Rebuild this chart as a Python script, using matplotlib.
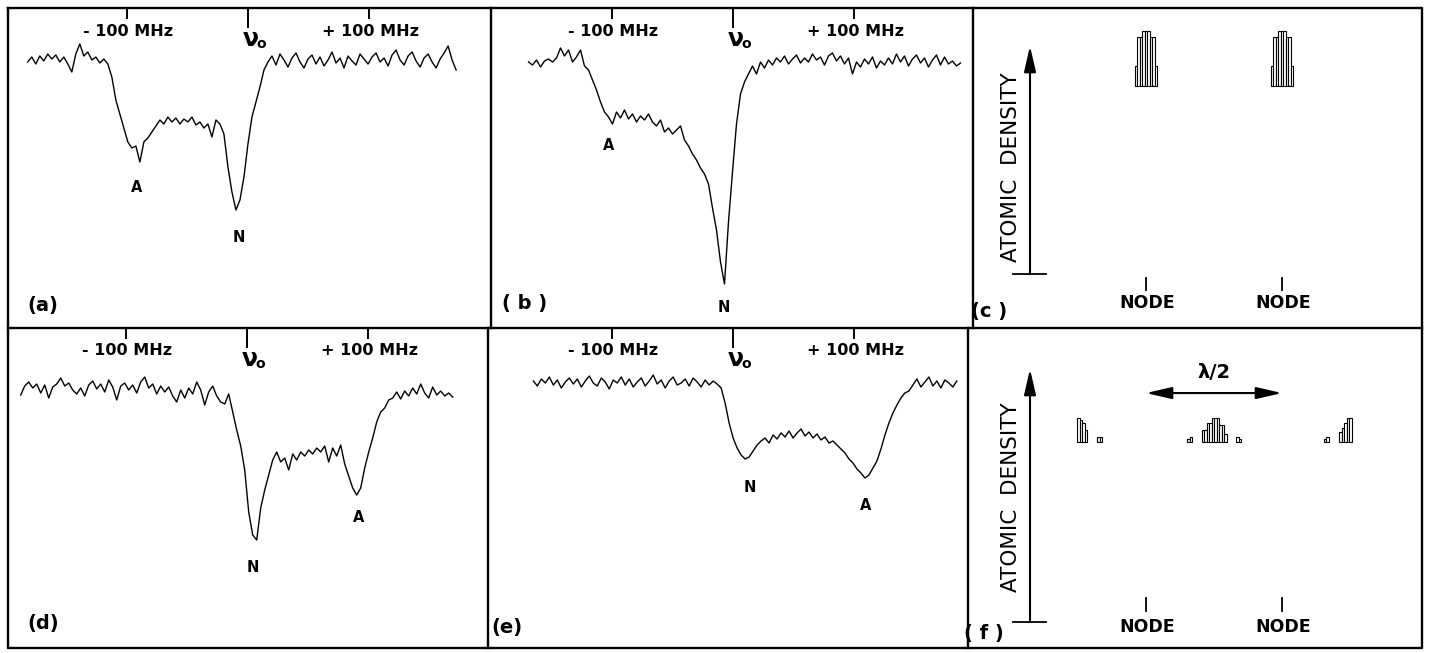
import numpy as np
import matplotlib
matplotlib.use("Agg")
import matplotlib.pyplot as plt

W, H = 1429, 653
PX_PER_MHZ = 1.21

# ---- spectra: signal in arb. units, 0 = off-resonance level, negative = absorption
# scans are sampled uniformly between the start/stop detunings (MHz from nu0)
scan_a = (-182, 172)
signal_a = [0, 5, -2, 6, 1, 8, 3, 7, 0, 5, -2, -10, 8, 18, 6, 10, 2, 5, -1, 3, -2,
            -15, -38, -52, -66, -80, -86, -84, -100, -80, -76, -70, -64, -58,
            -62, -55, -60, -56, -62, -57, -60, -55, -63, -60, -66, -62, -75, -58, -62,
            -72, -105, -130, -148, -138, -115, -82, -55, -40, -25, -8,
            0, 6, -3, 8, 2, -5, 4, 9, 0, -6, 3, 7, -2, 5, -4, 2, 10, -1, 4, -6,
            6, 1, -3, 8, 3, -2, 5, 9, 0, 4, -4, 7, 12, 2, -3, 6, 10, 1, -5, 4,
            8, 0, -6, 3, 9, 16, 2, -8]

scan_b = (-169, 188)
signal_b = [0, -3, 2, -5, 1, 3, 0, 4, 14, 6, 12, 0, 5, 12, -4,
            -8, -18, -28, -40, -50,
            -55, -62, -50, -56, -48, -57, -52, -60, -54, -58, -52, -60,
            -64, -58, -70, -66, -72, -68, -64, -78, -84, -92, -98, -106, -112, -122,
            -146, -168, -200, -222,
            -160, -110, -62, -32, -20, -12,
            -4, -12, 0, -6, 2, -3, 4, 0, 6, -2, 3, 7, -1, 4, 0, 8, 2, 5, -3, 6,
            9, 1, 6, -2, 4, -12, 0, -5, 3, -2, 5, -6, 1, -3, 4, -2, 8, 0, 6, -4,
            3, 7, -1, 4, -5, 2, 7, -3, 5, -2, 1, -4, -1]

scan_d = (-187, 170)
signal_d = [-5, 4, 8, 2, 6, -3, 5, -8, 3, 6, 12, 4, 7, 0, -4, 2, -6, 5, 9, 1,
            6, -2, 10, 3, -10, 4, 7, 0, 5, -3, 8, 13, 2, 6, -4, 4, -2, 3, -6, -12,
            0, -8, 2, -4, 8, 0, -15, -2, 4, -6, -12, -14, -4,
            -22, -40, -56, -80, -122, -145, -150, -118, -100, -85, -70, -62,
            -72, -68, -80, -64, -70, -62, -66, -60, -64, -58, -62, -56, -72, -58, -66, -55,
            -74, -86, -98, -105, -98, -78, -62, -48, -32, -22, -18, -10, -8,
            -2, -9, -1, -6, 2, -4, 6, -3, -8, 3, -5, -1, -6, -3, -7]

scan_e = (-165, 185)
signal_e = [2, -3, 4, 0, 6, -2, 3, -5, 1, 5, -1, 4, -4, 2, 7, 0, -3, 5, 1, -6,
            3, 0, 6, -2, 4, -4, 1, 5, -3, 2, 8, -1, 3, -5, 2, 6, -2, 0, 4, -3,
            5, 1, -4, 3, -2, 2, -1,
            -5, -20, -40, -55, -65, -72, -76, -74, -68, -62, -58, -55,
            -60, -52, -56, -50, -54, -48, -55, -50, -46, -53, -49, -55, -51, -57, -54, -60, -58,
            -62, -66, -70, -76, -80, -86, -90, -95, -92, -85, -78, -66, -52, -40, -30,
            -22, -15, -10, -8,
            -2, 4, -4, 1, 6, -3, 2, -5, 3, 0, -4, 2]

# ---- atomic density histograms, positions in units of the wavelength (node at 0 and 1/2)
nodes_c = [0.0, 0.5]
offset_c = [-0.0368, -0.0276, -0.0184, -0.0092, 0.0, 0.0092, 0.0184, 0.0276, 0.0368]
density_c = [0.36, 0.89, 0.89, 1.0, 1.0, 1.0, 0.89, 0.89, 0.36]

pos_f = [-0.2482, -0.2390, -0.2298, -0.2206, -0.1746, -0.1654,
         0.1563, 0.1654, 0.2096, 0.2188, 0.2279, 0.2371, 0.2463, 0.2555, 0.2647,
         0.2739, 0.2831, 0.2923, 0.3364, 0.3456,
         0.6581, 0.6673, 0.7151, 0.7243, 0.7335, 0.7426, 0.7518]
density_f = [0.44, 0.40, 0.35, 0.22, 0.09, 0.09,
             0.06, 0.09, 0.22, 0.22, 0.35, 0.35, 0.44, 0.44, 0.44,
             0.31, 0.31, 0.15, 0.09, 0.06,
             0.06, 0.09, 0.18, 0.25, 0.35, 0.44, 0.44]

tick_labels = {-100: "- 100 MHz", 100: "+ 100 MHz"}

fig = plt.figure(figsize=(W / 100, H / 100), dpi=100)
ov = fig.add_axes([0, 0, 1, 1])
ov.set_xlim(0, W)
ov.set_ylim(H, 0)
ov.set_axis_off()

BOLD = dict(fontfamily="DejaVu Sans", fontweight="bold", color="black")


def px_axes(x0, y0, x1, y1):
    ax = fig.add_axes([x0 / W, 1 - y1 / H, (x1 - x0) / W, (y1 - y0) / H])
    ax.set_axis_off()
    ax.patch.set_alpha(0)
    return ax


# frame
frame_kw = dict(color="black", lw=1.7, solid_capstyle="projecting")
ov.plot([8, 1422, 1422, 8, 8], [8, 8, 648, 648, 8], **frame_kw)
ov.plot([8, 1422], [328, 328], **frame_kw)
ov.plot([491, 491], [8, 328], **frame_kw)
ov.plot([973, 973], [8, 328], **frame_kw)
ov.plot([488, 488], [328, 648], **frame_kw)
ov.plot([968, 968], [328, 648], **frame_kw)

panels = [
    dict(rect=(8, 8, 491, 328), nu0=248, base=62, scan=scan_a, sig=signal_a,
         marks=[("A", -92, -125), ("N", -8, -176)]),
    dict(rect=(491, 8, 973, 328), nu0=733, base=62, scan=scan_b, sig=signal_b,
         marks=[("A", -103, -83), ("N", -8, -245)]),
    dict(rect=(8, 328, 488, 648), nu0=247, base=390, scan=scan_d, sig=signal_d,
         marks=[("N", 5, -178), ("A", 92, -128)]),
    dict(rect=(488, 328, 968, 648), nu0=733, base=383, scan=scan_e, sig=signal_e,
         marks=[("N", 14, -104), ("A", 110, -123)]),
]

for p in panels:
    x0, y0, x1, y1 = p["rect"]
    ax = px_axes(x0, y0, x1, y1)
    ax.set_xlim((x0 - p["nu0"]) / PX_PER_MHZ, (x1 - p["nu0"]) / PX_PER_MHZ)
    top = p["base"] - y0
    ax.set_ylim(-(y1 - p["base"]), top)
    freqs = np.linspace(p["scan"][0], p["scan"][1], len(p["sig"]))
    ax.plot(freqs, p["sig"], color="black", lw=1.0)
    for f, ln in [(-100, 10), (0, 19), (100, 10)]:
        ax.plot([f, f], [top, top - ln], color="black", lw=1.4)
    for f, txt in tick_labels.items():
        ax.text(f + 1, top - 23, txt, ha="center", va="center", fontsize=11.5, **BOLD)
    ax.text(2, top - 31, "ν", ha="center", va="center", fontsize=17, **BOLD)
    ax.text(11, top - 36, "o", ha="center", va="center", fontsize=10, **BOLD)
    for txt, f, s in p["marks"]:
        ax.text(f, s, txt, ha="center", va="center", fontsize=10.5, **BOLD)

# panel letters
for txt, x, y in [("(a)", 43, 305), ("( b )", 525, 303), ("(c )", 989, 312),
                  ("(d)", 43, 623), ("(e)", 507, 628), ("( f )", 984, 634)]:
    ov.text(x, y, txt, ha="center", va="center", fontsize=14, **BOLD)


# density schematics
def density_panel(rect, hist_base):
    x0, y0, x1, y1 = rect
    ax = px_axes(x0, y0, x1, y1)
    ax.set_xlim((x0 - 1146) / 272, (x1 - 1146) / 272)
    ax.set_ylim(-(y1 - hist_base) / 55, (hist_base - y0) / 55)
    return ax


arrow_kw = dict(arrowstyle="-|>,head_length=1.3,head_width=0.3", color="black",
                lw=1.5, mutation_scale=12, shrinkA=0, shrinkB=0)

# rect, histogram base, arrow top, arrow base, label centre, node tick span, NODE y
schem = [((973, 8, 1422, 328), 86, 46, 274, 167, (278, 290), 303),
         ((968, 328, 1422, 648), 442, 369, 622, 497, (598, 611), 627)]

for rect, hist_base, ax_top, ax_bot, lab_y, tick_span, node_y in schem:
    ax = density_panel(rect, hist_base)
    if rect[1] == 8:
        for n in nodes_c:
            ax.bar([n + o for o in offset_c], density_c, width=0.0092,
                   facecolor="white", edgecolor="black", lw=0.8)
    else:
        ax.bar(pos_f, density_f, width=0.0092, facecolor="white",
               edgecolor="black", lw=0.8)
        ax.annotate("", xy=(0.0, 0.89), xytext=(0.5, 0.89),
                    arrowprops=dict(arrowstyle="<|-|>,head_length=1.3,head_width=0.3",
                                    color="black", lw=1.5, mutation_scale=12,
                                    shrinkA=0, shrinkB=0))
        ax.text(0.25, 1.27, "λ/2", ha="center", va="center", fontsize=14, **BOLD)
    ov.annotate("", xy=(1030, ax_top), xytext=(1030, ax_bot), arrowprops=arrow_kw)
    ov.plot([1013, 1046], [ax_bot, ax_bot], color="black", lw=1.3)
    ov.text(1011, lab_y, "ATOMIC  DENSITY", rotation=90,
            ha="center", va="center", fontsize=15.5, fontfamily="DejaVu Sans",
            color="black")
    for nx in (1146, 1282):
        ov.plot([nx, nx], tick_span, color="black", lw=1.3)
        ov.text(nx + 1, node_y, "NODE", ha="center", va="center",
                fontsize=12.5, **BOLD)

fig.savefig("out.png", dpi=100)
